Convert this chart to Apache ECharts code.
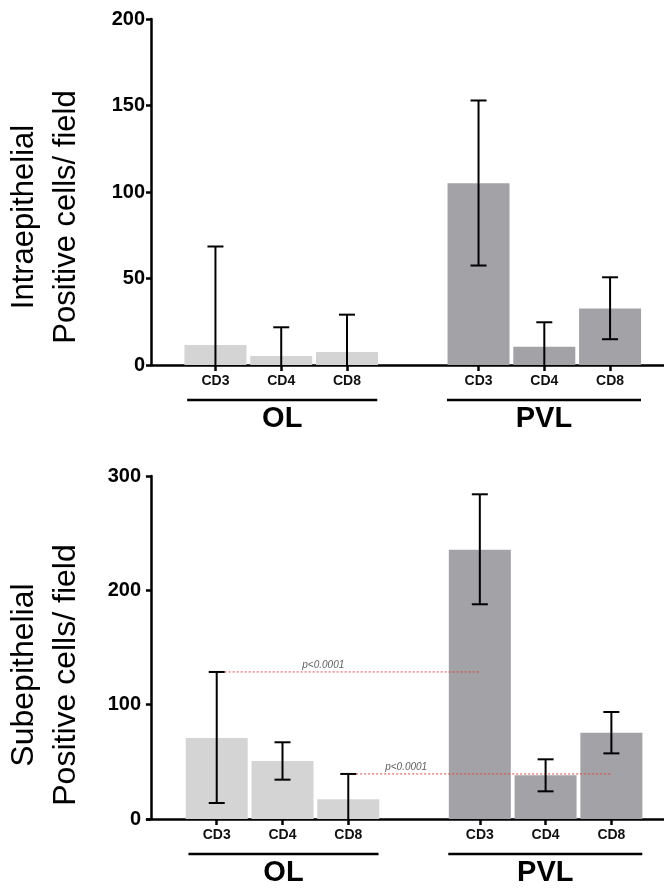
<!DOCTYPE html>
<html>
<head>
<meta charset="utf-8">
<script src="https://cdn.jsdelivr.net/npm/echarts@6/dist/echarts.min.js"></script>
<style>
  html, body { margin: 0; padding: 0; background: #fff; }
  #chart { width: 664px; height: 893px; }
</style>
</head>
<body>
<div id="chart"></div>
<script>
// categories and groups
const categories = ["CD3", "CD4", "CD8", "CD3", "CD4", "CD8"];
const groups = ["OL", "PVL"];
const positions = [1, 2, 3, 5, 6, 7];        // slot of each bar on the x axis
const groupSpan = [[0.57, 3.46], [4.52, 7.47]];
// intraepithelial (top panel)
const intraMean = [11.5, 5.2, 7.5, 105.1, 10.6, 32.6];
const intraLow = [0, 0, 0, 57.5, 0, 14.9];
const intraHigh = [68.5, 21.8, 29.1, 152.9, 24.7, 50.7];
// subepithelial (bottom panel)
const subMean = [70.8, 50.7, 17.2, 235.6, 38.2, 75.5];
const subLow = [14, 34.4, 0, 187.8, 24.2, 57.4];
const subHigh = [128.6, 67.1, 39.4, 284, 52.2, 93.6];
// significance lines: [from bar, to bar, label x]
const pLines = [[0, 3, 2.62], [2, 5, 3.88]];
const pLabel = "p<0.0001";

const font = "'Liberation Sans', Arial, sans-serif";
const colors = ["#d4d4d4", "#a3a2a7"];

function barData(mean) {
  return mean.map((v, i) => ({
    value: [positions[i], v],
    itemStyle: { color: colors[i < 3 ? 0 : 1] }
  }));
}

function errData(low, high) {
  return low.map((l, i) => [positions[i], l, high[i]]);
}

function renderErr(params, api) {
  const x = api.value(0);
  const lo = api.coord([x, api.value(1)]);
  const hi = api.coord([x, api.value(2)]);
  const half = 8;
  const style = { stroke: "#000", lineWidth: 2 };
  const children = [
    { type: "line", shape: { x1: lo[0], y1: lo[1], x2: hi[0], y2: hi[1] }, style: style },
    { type: "line", shape: { x1: hi[0] - half, y1: hi[1], x2: hi[0] + half, y2: hi[1] }, style: style }
  ];
  if (api.value(1) > 0) {
    children.push({ type: "line", shape: { x1: lo[0] - half, y1: lo[1], x2: lo[0] + half, y2: lo[1] }, style: style });
  }
  return { type: "group", children: children };
}

function renderGroup(params, api) {
  const a = api.coord([api.value(0), 0]);
  const b = api.coord([api.value(1), 0]);
  return {
    type: "group",
    children: [
      { type: "line", shape: { x1: a[0], y1: a[1] + 35, x2: b[0], y2: b[1] + 35 },
        style: { stroke: "#000", lineWidth: 2.5 } },
      { type: "text", x: (a[0] + b[0]) / 2, y: a[1] + 54,
        style: { text: groups[params.dataIndex], fill: "#000", font: "bold 29px " + font,
                 align: "center", verticalAlign: "middle" } }
    ]
  };
}

function xAxisFor(idx, min, max) {
  return {
    type: "value", gridIndex: idx, min: min, max: max,
    axisLine: { lineStyle: { color: "#000", width: 2.5 } },
    axisTick: { customValues: positions, length: 6, lineStyle: { color: "#000", width: 2.5 } },
    axisLabel: {
      customValues: positions, margin: 9,
      formatter: v => categories[positions.indexOf(v)] || "",
      color: "#111", fontWeight: "bold", fontSize: 14, fontFamily: font
    },
    splitLine: { show: false }
  };
}

function yAxisFor(idx, max, interval) {
  return {
    type: "value", gridIndex: idx, min: 0, max: max, interval: interval,
    axisLine: { show: true, lineStyle: { color: "#000", width: 2.5 } },
    axisTick: { show: true, length: 5, lineStyle: { color: "#000", width: 2.5 } },
    axisLabel: { color: "#000", fontWeight: "bold", fontSize: 20, fontFamily: font, margin: 6 },
    splitLine: { show: false }
  };
}

function yTitle(text, y, size) {
  return {
    type: "text", x: 45, y: y, rotation: Math.PI / 2,
    style: { text: text, fill: "#000", font: size + "px " + font, lineHeight: 42,
             align: "center", verticalAlign: "middle" }
  };
}

const chart = echarts.init(document.getElementById("chart"));
const option = {
  animation: false,
  backgroundColor: "#fff",
  grid: [
    { left: 151, right: 0, top: 19, height: 346 },
    { left: 147, right: 0, top: 476, height: 343 }
  ],
  xAxis: [xAxisFor(0, 0.02, 7.82), xAxisFor(1, -0.06, 7.8)],
  yAxis: [yAxisFor(0, 200, 50), yAxisFor(1, 300, 100)],
  graphic: [
    yTitle("Intraepithelial\nPositive cells/ field", 217, 31),
    yTitle("Subepithelial\nPositive cells/ field", 675, 32)
  ],
  series: [
    { type: "bar", xAxisIndex: 0, yAxisIndex: 0, barWidth: 62, data: barData(intraMean) },
    { type: "bar", xAxisIndex: 1, yAxisIndex: 1, barWidth: 62, data: barData(subMean) },
    { type: "custom", xAxisIndex: 0, yAxisIndex: 0, renderItem: renderErr, data: errData(intraLow, intraHigh), z: 5 },
    { type: "custom", xAxisIndex: 1, yAxisIndex: 1, renderItem: renderErr, data: errData(subLow, subHigh), z: 5 },
    { type: "custom", xAxisIndex: 0, yAxisIndex: 0, renderItem: renderGroup, clip: false, data: groupSpan },
    { type: "custom", xAxisIndex: 1, yAxisIndex: 1, renderItem: renderGroup, clip: false, data: groupSpan }
  ]
};

pLines.forEach(([from, to, lx]) => {
  const y = subHigh[from];
  option.series.push({
    type: "line", xAxisIndex: 1, yAxisIndex: 1, symbol: "none", z: 4,
    lineStyle: { color: "#e8413c", width: 1, type: [2, 2] },
    data: [[positions[from] + 0.12, y], [positions[to], y]]
  });
  option.series.push({
    type: "scatter", xAxisIndex: 1, yAxisIndex: 1, symbolSize: 0, z: 4,
    label: { show: true, position: "top", distance: 2, formatter: pLabel,
             fontStyle: "italic", fontSize: 10, color: "#333", fontFamily: font },
    data: [[lx, y]]
  });
});

chart.setOption(option);
</script>
</body>
</html>
